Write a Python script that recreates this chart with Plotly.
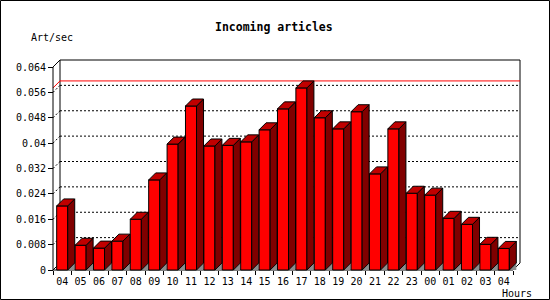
import plotly.graph_objects as go

# ---- data ----
hours = ["04", "05", "06", "07", "08", "09", "10", "11", "12", "13", "14", "15", "16",
         "17", "18", "19", "20", "21", "22", "23", "00", "01", "02", "03", "04"]
values = [0.0202, 0.0078, 0.0069, 0.0091, 0.0160, 0.0284, 0.0397, 0.0517, 0.0391,
          0.0393, 0.0404, 0.0442, 0.0508, 0.0574, 0.0480, 0.0445, 0.0499, 0.0303,
          0.0445, 0.0242, 0.0236, 0.0163, 0.0144, 0.0081, 0.0068]
y_ticks = [0, 0.008, 0.016, 0.024, 0.032, 0.04, 0.048, 0.056, 0.064]
y_ticktext = ["0", "0.008", "0.016", "0.024", "0.032", "0.04", "0.048", "0.056", "0.064"]
title = "Incoming articles"
y_title = "Art/sec"
x_title = "Hours"

# ---- geometry (pixel based) ----
W, H = 550, 300
PL, PR, PT, PB = 50, 524, 57, 273          # plot area in pixels
X0PX, PXPERCAT = 53.0, 18.4                 # front axis pixel x and pixels per category
Y0PX, YTOPPX, YMAX = 270.0, 67.0, 0.064     # front axis: y=0 at 270, 0.064 at 67
PX_PER_Y = (Y0PX - YTOPPX) / YMAX
DEPTH = 7.0                                 # 3D depth in pixels
n = len(values)

xr_lo = -0.5 - (X0PX - PL) / PXPERCAT
xr_hi = -0.5 + (PR - X0PX) / PXPERCAT
yr_lo = -(PB - Y0PX) / PX_PER_Y
yr_hi = (Y0PX - PT) / PX_PER_Y
DX = DEPTH / PXPERCAT
DY = DEPTH / PX_PER_Y
XL, XR = -0.5, n - 0.5                      # front floor extent
HALF = 0.3

def px2paper_x(px):
    return (px - PL) / (PR - PL)

def px2paper_y(py):
    return (PB - py) / (PB - PT)

fig = go.Figure()

def line(xs, ys, color="black", dash=None, width=1):
    fig.add_trace(go.Scatter(x=xs, y=ys, mode="lines", hoverinfo="skip", showlegend=False,
                             line=dict(color=color, width=width, dash=dash)))

# back plane grid (dotted) and left diagonals
gx, gy, dgx, dgy = [], [], [], []
for v in y_ticks[1:-1]:
    gx += [XL + DX, XR + DX, None]
    gy += [v + DY, v + DY, None]
    dgx += [XL, XL + DX, None]
    dgy += [v, v + DY, None]
line(gx, gy, dash="2px,2px")
line(dgx, dgy, dash="2px,2px")

# back plane frame
line([XL + DX, XL + DX, XR + DX, XR + DX], [DY, YMAX + DY, YMAX + DY, DY])
# top-left diagonal
line([XL, XL + DX], [YMAX, YMAX + DY])
# floor diagonals
line([XL, XL + DX, None, XR, XR + DX], [0, DY, None, 0, DY])

# max line (red) on back plane
vmax = max(values)
line([XL, XL + DX, XR + DX], [vmax, vmax + DY, vmax + DY], color="#ff0000")

# front axes
line([XL, XL, None, XL, XR], [YMAX, 0, None, 0, 0])

# gray floor shadows
sx, sy = [], []
for i, v in enumerate(values):
    xr = i + HALF
    sx += [xr, xr + DX, xr + DX, xr, None]
    sy += [0, DY, 0, 0, None]
fig.add_trace(go.Scatter(x=sx, y=sy, mode="lines", fill="toself", fillcolor="#8c8c8c",
                         line=dict(width=0, color="#8c8c8c"), hoverinfo="skip", showlegend=False))

# bars: front, side, top
fx, fy, ssx, ssy, tx, ty = [], [], [], [], [], []
for i, v in enumerate(values):
    xl, xr = i - HALF, i + HALF
    fx += [xl, xr, xr, xl, xl, None]
    fy += [0, 0, v, v, 0, None]
    ssx += [xr, xr + DX, xr + DX, xr, xr, None]
    ssy += [0, DY, v + DY, v, 0, None]
    tx += [xl, xr, xr + DX, xl + DX, xl, None]
    ty += [v, v, v + DY, v + DY, v, None]
for xs, ys, col in [(fx, fy, "#ff0000"), (ssx, ssy, "#800000"), (tx, ty, "#c00000")]:
    fig.add_trace(go.Scatter(x=xs, y=ys, mode="lines", fill="toself", fillcolor=col,
                             line=dict(color="black", width=1), hoverinfo="skip",
                             showlegend=False))

font = dict(family="DejaVu Sans Mono", size=10, color="black")

fig.update_layout(
    width=W, height=H,
    margin=dict(l=PL, r=W - PR, t=PT, b=H - PB, pad=0),
    paper_bgcolor="white", plot_bgcolor="white",
    showlegend=False,
    font=font,
    xaxis=dict(range=[xr_lo, xr_hi], showgrid=False, zeroline=False, showline=False,
               anchor="free", position=px2paper_y(Y0PX),
               tickmode="array", tickvals=list(range(n)), ticktext=hours,
               ticks="outside", ticklen=2, tickcolor="rgba(0,0,0,0)", tickfont=font,
               minor=dict(tickmode="array", tickvals=[i - 0.5 for i in range(n + 1)],
                          ticks="outside", ticklen=4, tickcolor="black", tickwidth=1,
                          showgrid=False)),
    yaxis=dict(range=[yr_lo, yr_hi], showgrid=False, zeroline=False, showline=False,
               anchor="free", position=px2paper_x(X0PX),
               tickmode="array", tickvals=y_ticks, ticktext=y_ticktext,
               ticks="outside", ticklen=5, tickcolor="black", tickwidth=1, tickfont=font),
    annotations=[
        dict(text="<b>" + title + "</b>", xref="paper", yref="paper",
             x=px2paper_x(274), y=px2paper_y(27), xanchor="center", yanchor="middle",
             showarrow=False, font=dict(family="DejaVu Sans Mono", size=11.5, color="black")),
        dict(text=y_title, xref="paper", yref="paper", x=px2paper_x(29), y=px2paper_y(37),
             xanchor="left", yanchor="middle", showarrow=False, font=font),
        dict(text=x_title, xref="paper", yref="paper", x=px2paper_x(534), y=px2paper_y(293),
             xanchor="right", yanchor="middle", showarrow=False, font=font),
    ],
    shapes=[dict(type="rect", xref="paper", yref="paper",
                 x0=px2paper_x(0.5), x1=px2paper_x(549.5),
                 y0=px2paper_y(0.5), y1=px2paper_y(299.5),
                 line=dict(color="black", width=1), fillcolor="rgba(0,0,0,0)")],
)

fig.write_html("out.html")
